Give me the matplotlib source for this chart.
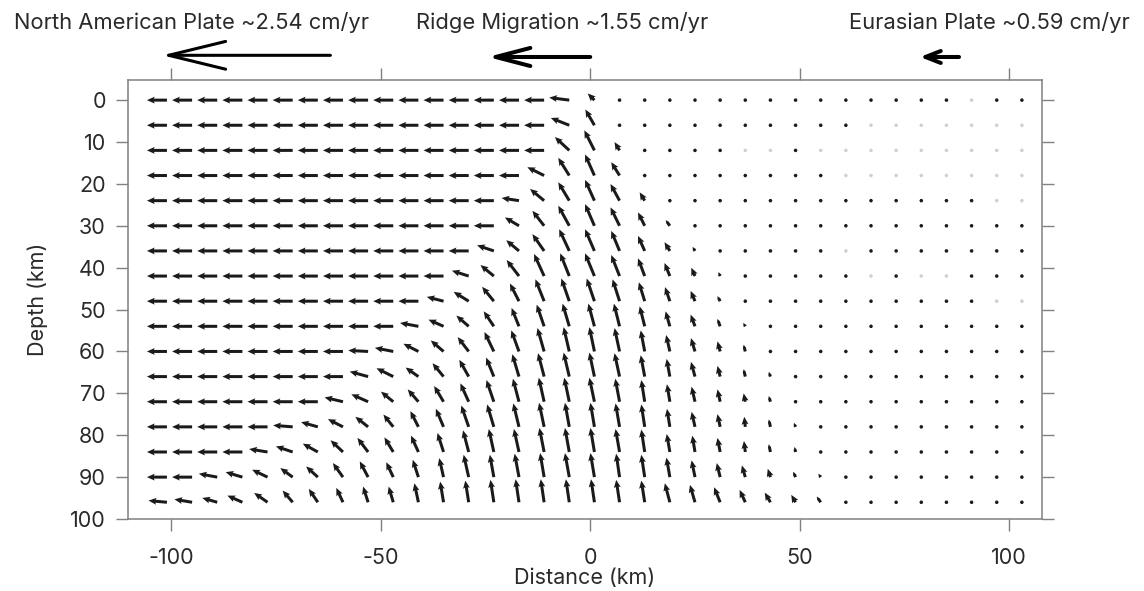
import numpy as np
import matplotlib.pyplot as plt

plt.rcParams['font.family'] = ['Inter', 'DejaVu Sans']
plt.rcParams['axes.unicode_minus'] = False

# model grid (km)
distance_km = list(range(-101, 104, 6))   # 35 columns
depth_km = list(range(0, 97, 6))          # 17 rows

# horizontal velocity (cm/yr, + = east), one list per depth row
u_rows = [
    [-1.95, -1.95, -1.95, -1.95, -1.95, -1.95, -1.95, -1.95, -1.95, -1.95, -1.95, -1.95, -1.95, -1.95, -1.95, -1.95, -1.95, -0.65, 0, 0, 0, 0, 0, 0, 0, 0, 0, 0, 0, 0, 0, 0, 0, 0, 0],
    [-1.95, -1.95, -1.95, -1.95, -1.95, -1.95, -1.95, -1.95, -1.95, -1.95, -1.95, -1.95, -1.95, -1.95, -1.95, -1.95, -1.79, -0.88, 0, 0, 0, 0, 0, 0, 0, 0, 0, 0, 0, 0, 0, 0, 0, 0, 0],
    [-1.95, -1.95, -1.95, -1.95, -1.95, -1.95, -1.95, -1.95, -1.95, -1.95, -1.95, -1.95, -1.95, -1.95, -1.95, -1.95, -1.40, -0.98, -0.49, 0, 0, 0, 0, 0, 0, 0, 0, 0, 0, 0, 0, 0, 0, 0, 0],
    [-1.95, -1.95, -1.95, -1.95, -1.95, -1.95, -1.95, -1.95, -1.95, -1.95, -1.95, -1.95, -1.95, -1.95, -1.95, -1.63, -1.07, -0.91, -0.81, -0.10, 0, 0, 0, 0, 0, 0, 0, 0, 0, 0, 0, 0, 0, 0, 0],
    [-1.95, -1.95, -1.95, -1.95, -1.95, -1.95, -1.95, -1.95, -1.95, -1.95, -1.95, -1.95, -1.95, -1.95, -1.69, -1.37, -1.07, -0.91, -0.88, -0.49, 0, 0, 0, 0, 0, 0, 0, 0, 0, 0, 0, 0, 0, 0, 0],
    [-1.95, -1.95, -1.95, -1.95, -1.95, -1.95, -1.95, -1.95, -1.95, -1.95, -1.95, -1.95, -1.95, -1.95, -1.37, -1.14, -1.07, -0.91, -0.88, -0.65, -0.40, 0, 0, 0, 0, 0, 0, 0, 0, 0, 0, 0, 0, 0, 0],
    [-1.95, -1.95, -1.95, -1.95, -1.95, -1.95, -1.95, -1.95, -1.95, -1.95, -1.95, -1.95, -1.95, -1.63, -1.24, -1.14, -0.98, -0.91, -0.81, -0.65, -0.52, -0.23, 0, 0, 0, 0, 0, 0, 0, 0, 0, 0, 0, 0, 0],
    [-1.95, -1.95, -1.95, -1.95, -1.95, -1.95, -1.95, -1.95, -1.95, -1.95, -1.95, -1.95, -1.63, -1.30, -1.20, -0.98, -0.88, -0.91, -0.81, -0.65, -0.52, -0.36, -0.16, 0, 0, 0, 0, 0, 0, 0, 0, 0, 0, 0, 0],
    [-1.95, -1.95, -1.95, -1.95, -1.95, -1.95, -1.95, -1.95, -1.95, -1.95, -1.95, -1.63, -1.46, -1.14, -0.88, -0.85, -0.77, -0.75, -0.68, -0.57, -0.47, -0.42, -0.26, -0.10, 0, 0, 0, 0, 0, 0, 0, 0, 0, 0, 0],
    [-1.95, -1.95, -1.95, -1.95, -1.95, -1.95, -1.95, -1.95, -1.95, -1.95, -1.79, -1.46, -1.20, -0.98, -0.72, -0.72, -0.65, -0.59, -0.55, -0.49, -0.42, -0.42, -0.26, -0.20, -0.10, 0, 0, 0, 0, 0, 0, 0, 0, 0, 0],
    [-1.95, -1.95, -1.95, -1.95, -1.95, -1.95, -1.95, -1.95, -1.93, -1.79, -1.46, -1.24, -1.07, -0.91, -0.75, -0.65, -0.55, -0.49, -0.49, -0.39, -0.36, -0.39, -0.26, -0.16, -0.10, -0.08, 0, 0, 0, 0, 0, 0, 0, 0, 0],
    [-1.95, -1.95, -1.95, -1.95, -1.95, -1.95, -1.95, -1.95, -1.79, -1.63, -1.24, -1.07, -0.91, -0.75, -0.65, -0.59, -0.55, -0.49, -0.49, -0.39, -0.31, -0.39, -0.26, -0.16, -0.16, -0.10, 0, 0, 0, 0, 0, 0, 0, 0, 0],
    [-1.95, -1.95, -1.95, -1.95, -1.95, -1.95, -1.95, -1.79, -1.63, -1.20, -1.04, -0.91, -0.81, -0.72, -0.59, -0.52, -0.49, -0.49, -0.42, -0.33, -0.28, -0.33, -0.26, -0.16, -0.16, -0.12, 0, 0, 0, 0, 0, 0, 0, 0, 0],
    [-1.95, -1.95, -1.95, -1.95, -1.95, -1.90, -1.63, -1.46, -1.24, -0.96, -0.78, -0.75, -0.72, -0.65, -0.55, -0.49, -0.42, -0.39, -0.39, -0.33, -0.28, -0.33, -0.26, -0.10, -0.16, -0.16, -0.05, 0, 0, 0, 0, 0, 0, 0, 0],
    [-1.95, -1.95, -1.95, -1.95, -1.79, -1.63, -1.46, -1.20, -1.04, -0.86, -0.72, -0.59, -0.55, -0.49, -0.49, -0.46, -0.42, -0.39, -0.39, -0.33, -0.30, -0.26, -0.26, -0.13, -0.16, -0.10, -0.08, 0, 0, 0, 0, 0, 0, 0, 0],
    [-1.95, -1.95, -1.79, -1.63, -1.50, -1.20, -1.14, -0.98, -0.81, -0.68, -0.55, -0.42, -0.49, -0.39, -0.42, -0.39, -0.42, -0.39, -0.33, -0.33, -0.33, -0.33, -0.33, -0.33, -0.26, -0.23, -0.23, -0.08, 0, 0, 0, 0, 0, 0, 0],
    [-1.79, -1.72, -1.46, -1.46, -1.30, -0.98, -0.88, -0.65, -0.49, -0.45, -0.39, -0.33, -0.33, -0.33, -0.33, -0.33, -0.33, -0.33, -0.33, -0.33, -0.49, -0.49, -0.59, -0.55, -0.55, -0.42, -0.39, -0.26, -0.10, 0, 0, 0, 0, 0, 0],
]

# vertical velocity (cm/yr, + = upward)
w_rows = [
    [0, 0, 0, 0, 0, 0, 0, 0, 0, 0, 0, 0, 0, 0, 0, 0, 0.25, 0.65, 0, 0, 0, 0, 0, 0, 0, 0, 0, 0, 0, 0, 0, 0, 0, 0, 0],
    [0, 0, 0, 0, 0, 0, 0, 0, 0, 0, 0, 0, 0, 0, 0, 0, 0.71, 1.53, 0, 0, 0, 0, 0, 0, 0, 0, 0, 0, 0, 0, 0, 0, 0, 0, 0],
    [0, 0, 0, 0, 0, 0, 0, 0, 0, 0, 0, 0, 0, 0, 0, 0, 1.30, 1.95, 0.81, 0, 0, 0, 0, 0, 0, 0, 0, 0, 0, 0, 0, 0, 0, 0, 0],
    [0, 0, 0, 0, 0, 0, 0, 0, 0, 0, 0, 0, 0, 0, 0, 0.81, 1.72, 2.05, 1.30, 0.15, 0, 0, 0, 0, 0, 0, 0, 0, 0, 0, 0, 0, 0, 0, 0],
    [0, 0, 0, 0, 0, 0, 0, 0, 0, 0, 0, 0, 0, 0, 0.26, 1.14, 1.79, 2.02, 1.62, 0.81, 0, 0, 0, 0, 0, 0, 0, 0, 0, 0, 0, 0, 0, 0, 0],
    [0, 0, 0, 0, 0, 0, 0, 0, 0, 0, 0, 0, 0, 0, 0.81, 1.46, 1.95, 2.11, 1.79, 1.30, 0.55, 0, 0, 0, 0, 0, 0, 0, 0, 0, 0, 0, 0, 0, 0],
    [0, 0, 0, 0, 0, 0, 0, 0, 0, 0, 0, 0, 0, 0.55, 1.04, 1.63, 2.11, 2.11, 1.95, 1.46, 0.85, 0.39, 0, 0, 0, 0, 0, 0, 0, 0, 0, 0, 0, 0, 0],
    [0, 0, 0, 0, 0, 0, 0, 0, 0, 0, 0, 0, 0.52, 1.07, 1.56, 2.15, 2.21, 2.21, 2.05, 1.72, 1.27, 0.81, 0.39, 0, 0, 0, 0, 0, 0, 0, 0, 0, 0, 0, 0],
    [0, 0, 0, 0, 0, 0, 0, 0, 0, 0, 0, 0.42, 0.91, 1.40, 1.72, 2.13, 2.21, 2.21, 2.13, 1.84, 1.37, 1.00, 0.49, 0.15, 0, 0, 0, 0, 0, 0, 0, 0, 0, 0, 0],
    [0, 0, 0, 0, 0, 0, 0, 0, 0, 0, 0.33, 0.65, 1.04, 1.46, 1.79, 2.11, 2.21, 2.21, 2.21, 1.95, 1.46, 1.14, 0.72, 0.33, 0.05, 0, 0, 0, 0, 0, 0, 0, 0, 0, 0],
    [0, 0, 0, 0, 0, 0, 0, 0, 0.10, 0.35, 0.75, 1.07, 1.40, 1.89, 2.05, 2.28, 2.37, 2.37, 2.28, 2.05, 1.60, 1.30, 0.98, 0.65, 0.20, 0, 0, 0, 0, 0, 0, 0, 0, 0, 0],
    [0, 0, 0, 0, 0, 0, 0, 0, 0.49, 0.81, 0.88, 1.30, 1.63, 1.85, 2.18, 2.28, 2.34, 2.34, 2.28, 2.08, 1.72, 1.43, 1.04, 0.72, 0.46, 0.15, 0, 0, 0, 0, 0, 0, 0, 0, 0],
    [0, 0, 0, 0, 0, 0, 0, 0.42, 0.72, 0.98, 1.20, 1.53, 1.79, 2.11, 2.24, 2.34, 2.34, 2.34, 2.24, 2.11, 1.70, 1.46, 1.20, 0.81, 0.55, 0.20, 0, 0, 0, 0, 0, 0, 0, 0, 0],
    [0, 0, 0, 0, 0, 0.15, 0.46, 0.75, 0.98, 1.20, 1.53, 1.76, 2.08, 2.18, 2.28, 2.34, 2.34, 2.34, 2.28, 2.18, 1.75, 1.46, 1.24, 0.98, 0.72, 0.39, 0.10, 0, 0, 0, 0, 0, 0, 0, 0],
    [0, 0, 0, 0, 0.29, 0.55, 0.81, 1.14, 1.37, 1.42, 1.59, 1.85, 2.11, 2.24, 2.24, 2.34, 2.34, 2.34, 2.24, 2.18, 1.75, 1.59, 1.37, 1.07, 0.75, 0.49, 0.20, 0, 0, 0, 0, 0, 0, 0, 0],
    [0, 0, 0.33, 0.49, 0.72, 0.88, 1.04, 1.37, 1.53, 1.45, 1.69, 1.85, 2.18, 2.18, 2.28, 2.34, 2.34, 2.34, 2.28, 2.18, 1.90, 1.63, 1.37, 1.14, 0.81, 0.52, 0.33, 0.05, 0, 0, 0, 0, 0, 0, 0],
    [0.16, 0.29, 0.42, 0.65, 0.91, 1.14, 1.30, 1.40, 1.53, 1.53, 1.85, 2.01, 2.11, 2.18, 2.24, 2.24, 2.24, 2.24, 2.18, 2.11, 1.85, 1.69, 1.46, 1.20, 0.94, 0.72, 0.55, 0.26, 0.10, 0, 0, 0, 0, 0, 0],
]

# grid points drawn as pale dots (row index -> column indices)
faint_dots = {
    0: [32],
    1: [28, 29, 30, 31, 32, 33, 34],
    2: [23, 24, 26, 27, 28, 29, 30, 31, 32, 33, 34],
    3: [27, 28, 29, 30, 31, 32, 33, 34],
    4: [33, 34],
    6: [27],
    7: [28, 30, 31],
    8: [33, 34],
}

# surface velocities shown above the section
plate_labels = ['North American Plate ~2.54 cm/yr', 'Ridge Migration ~1.55 cm/yr', 'Eurasian Plate ~0.59 cm/yr']
plate_speeds = [2.54, 1.55, 0.59]
arrow_tails_km = [-62, 0, 88]

X, Z = np.meshgrid(distance_km, depth_km)
U = np.array(u_rows)
W = np.array(w_rows)
faint = np.zeros(U.shape, dtype=bool)
for r, cols in faint_dots.items():
    faint[r, cols] = True
speed = np.hypot(U, W)
# short vectors are drawn as plain stubs, the rest as arrows
stub = (speed < 0.8) & ~faint
full = (speed >= 0.8) & ~faint

fig = plt.figure(figsize=(11.44, 5.91), dpi=100)
ax = fig.add_axes([0.1115, 0.1218, 0.7997, 0.7428])

q_kw = dict(angles='xy', scale_units='xy', scale=0.408, pivot='tail', units='dots',
            width=3, minlength=1.3)
ax.quiver(X[full], Z[full], U[full], -W[full], color='#1a1a1a',
          headwidth=2.3, headlength=2.6, headaxislength=2.3, **q_kw)
ax.quiver(X[stub], Z[stub], U[stub], -W[stub], color='#1a1a1a',
          headwidth=1.2, headlength=1.2, headaxislength=1.1, **q_kw)
ax.quiver(X[faint], Z[faint], U[faint], -W[faint], color='#d0d0d0',
          headwidth=1.2, headlength=1.2, headaxislength=1.1, **q_kw)

ax.set_xlim(-110.4, 107.9)
ax.set_ylim(100, -4.8)
ax.set_xticks([-100, -50, 0, 50, 100])
ax.set_yticks(np.arange(0, 101, 10))

gray = '#808080'
txt = '#2a2a2a'
for s in ax.spines.values():
    s.set_color(gray)
    s.set_linewidth(1.1)
ax.tick_params(direction='out', length=8.6, width=1.0, color=gray, labelsize=15.5,
               labelcolor=txt, top=True, right=True)
ax.tick_params(axis='y', pad=7)
ax.tick_params(axis='x', pad=12.5)
ax.set_xlabel('Distance (km)', fontsize=15.5, color=txt, labelpad=0)
ax.set_ylabel('Depth (km)', fontsize=15.5, color=txt, labelpad=16)

# surface motion arrows and labels
km_per_speed = 15.8
head_styles = ['->,head_length=41,head_width=10', '->,head_length=25,head_width=6.5',
               '->,head_length=11,head_width=4.3']
line_widths = [2.2, 2.9, 2.9]
arrow_y = [-10.7, -10.3, -10.3]
text_x = [-95.2, -6.7, 95.3]
for lab, sp, tail, hs, lw, ay, tx in zip(plate_labels, plate_speeds, arrow_tails_km,
                                         head_styles, line_widths, arrow_y, text_x):
    ax.annotate('', xy=(tail - sp * km_per_speed, ay), xytext=(tail, ay),
                arrowprops=dict(arrowstyle=hs, lw=lw, color='black', mutation_scale=1,
                                shrinkA=0, shrinkB=0),
                annotation_clip=False)
    ax.text(tx, -18.6, lab, ha='center', va='center', fontsize=15.8, color=txt,
            clip_on=False)

fig.savefig('out.png', dpi=100)
